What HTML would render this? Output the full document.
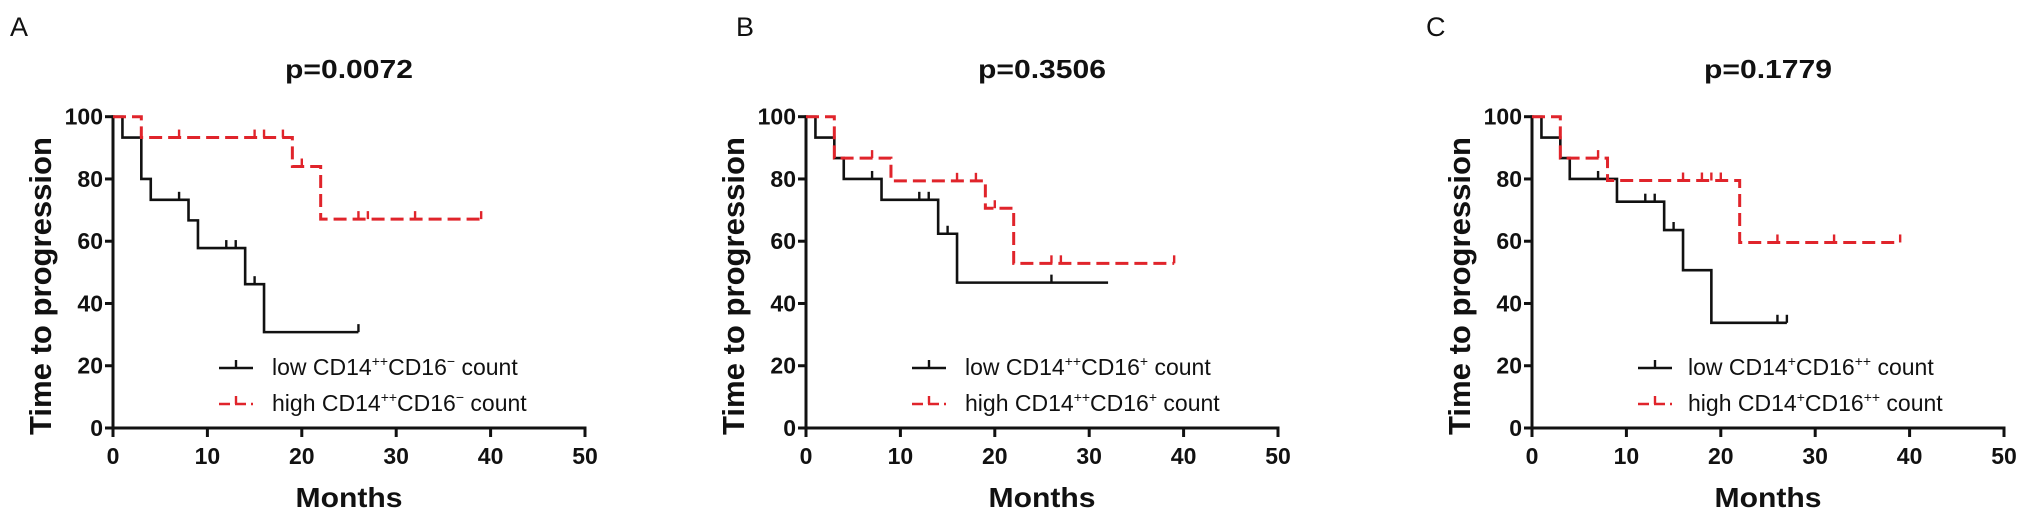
<!DOCTYPE html>
<html><head><meta charset="utf-8">
<style>
html,body{margin:0;padding:0;background:#fff;}
body{width:2031px;height:521px;position:relative;overflow:hidden;font-family:"Liberation Sans",Arial,sans-serif;}
svg{position:absolute;left:0;top:0;}
.leg{position:absolute;font-size:23px;color:#111;white-space:nowrap;line-height:1;}
.leg sup{font-size:14px;vertical-align:9px;line-height:0;}
.plabel{position:absolute;font-size:27px;color:#111;top:12px;}
</style></head>
<body>
<svg id="chart" width="2031" height="521"></svg>
<div class="plabel" style="left:10px">A</div>
<div class="plabel" style="left:736px">B</div>
<div class="plabel" style="left:1426px">C</div>
<div class="leg" style="left:272px;top:356px">low CD14<sup>++</sup>CD16<sup>−</sup> count</div>
<div class="leg" style="left:272px;top:392px">high CD14<sup>++</sup>CD16<sup>−</sup> count</div>
<div class="leg" style="left:965px;top:356px">low CD14<sup>++</sup>CD16<sup>+</sup> count</div>
<div class="leg" style="left:965px;top:392px">high CD14<sup>++</sup>CD16<sup>+</sup> count</div>
<div class="leg" style="left:1688px;top:356px">low CD14<sup>+</sup>CD16<sup>++</sup> count</div>
<div class="leg" style="left:1688px;top:392px">high CD14<sup>+</sup>CD16<sup>++</sup> count</div>
<script>
// Panel A
const aTitle = "p=0.0072";
const aLowTimes = [0,1,3,4,8,9,14,16];
const aLowSurv = [100,93.3,80,73.3,66.7,57.8,46.2,30.8];
const aLowEnd = 26;
const aLowCens = [7,12,13,15,26];
const aHighTimes = [0,3,19,22];
const aHighSurv = [100,93.3,84,67.1];
const aHighEnd = 39;
const aHighCens = [7,15,16,18,20,26,27,32,39];
// Panel B
const bTitle = "p=0.3506";
const bLowTimes = [0,1,3,4,8,14,16];
const bLowSurv = [100,93.3,86.7,80,73.3,62.4,46.7];
const bLowEnd = 32;
const bLowCens = [7,12,13,15,26];
const bHighTimes = [0,3,9,19,22];
const bHighSurv = [100,86.7,79.4,70.6,52.9];
const bHighEnd = 39;
const bHighCens = [7,16,18,20,26,27,39];
// Panel C
const cTitle = "p=0.1779";
const cLowTimes = [0,1,3,4,9,14,16,19];
const cLowSurv = [100,93.3,86.7,80,72.7,63.6,50.7,33.8];
const cLowEnd = 27;
const cLowCens = [7,12,13,15,26,27];
const cHighTimes = [0,3,8,22];
const cHighSurv = [100,86.7,79.5,59.6];
const cHighEnd = 39;
const cHighCens = [7,16,18,19,20,26,32,39];
// Axes
const xTicks = [0,10,20,30,40,50];
const yTicks = [0,20,40,60,80,100];

const NS = "http://www.w3.org/2000/svg";
const svg = document.getElementById('chart');
function mk(tag, attrs, parent){
  const e = document.createElementNS(NS, tag);
  for (const k in attrs) e.setAttribute(k, attrs[k]);
  (parent||svg).appendChild(e);
  return e;
}
const Y0 = 428, YH = 311.3, XW = 472;
function panel(key, ox, title, series){
  const g = mk('g', {});
  
  
  const sx = v => ox + v / 50 * XW;
  const sy = v => Y0 - v / 100 * YH;
  const t = mk('text', {x: ox + XW/2, y: 78, 'text-anchor':'middle', 'font-size':26, 'font-weight':'bold', fill:'#111', textLength:128, lengthAdjust:'spacingAndGlyphs'}, g);
  t.textContent = title;
  
  
  const yt = mk('text', {x: 0, y: 0, transform:`translate(${ox-62},286) rotate(-90)`, 'text-anchor':'middle', 'font-size':31, 'font-weight':'bold', fill:'#111', textLength:298, lengthAdjust:'spacingAndGlyphs'}, g);
  yt.textContent = 'Time to progression';
  
  
  const xt = mk('text', {x: ox + XW/2, y: 507, 'text-anchor':'middle', 'font-size':28, 'font-weight':'bold', fill:'#111', textLength:107, lengthAdjust:'spacingAndGlyphs'}, g);
  xt.textContent = 'Months';
  
  
  const ax = mk('path', {d:`M${sx(0)},${sy(100)-1.5} V${Y0} H${sx(50)+1.5}`, stroke:'#111', 'stroke-width':3, fill:'none'}, g);
  
  
  yTicks.forEach(v => {
    const tk = mk('line', {x1:sx(0)-8, x2:sx(0), y1:sy(v), y2:sy(v), stroke:'#111','stroke-width':3}, g);
    
    
    const l = mk('text', {x:sx(0)-10, y:sy(v)+8, 'text-anchor':'end','font-size':23,'font-weight':'bold',fill:'#111'}, g);
    l.textContent = v;
    
    
  });
  xTicks.forEach(v => {
    const tk = mk('line', {x1:sx(v), x2:sx(v), y1:Y0, y2:Y0+9, stroke:'#111','stroke-width':3}, g);
    
    
    const l = mk('text', {x:sx(v), y:464, 'text-anchor':'middle','font-size':23,'font-weight':'bold',fill:'#111'}, g);
    l.textContent = v;
    
    
  });
  series.forEach((s, i) => {
    const {times, surv, end, cens, color, dash, name} = s;
    let d = `M${sx(times[0])},${sy(surv[0])}`;
    for (let k = 1; k < times.length; k++) d += ` H${sx(times[k])} V${sy(surv[k])}`;
    d += ` H${sx(end)}`;
    const p = mk('path', {d, stroke:color, 'stroke-width': dash ? 3 : 2.6, fill:'none', 'stroke-dasharray': dash ? '13 6' : 'none'}, g);
    
    
    const survAt = tm => { let v = surv[0]; for (let k=0;k<times.length;k++) if (times[k] <= tm) v = surv[k]; return v; };
    cens.forEach(c => {
      const cy = sy(survAt(c));
      const m = mk('line', {x1:sx(c), x2:sx(c), y1:cy, y2:cy-8, stroke:color, 'stroke-width':2.4}, g);
      
      
    });
    const ly = i === 0 ? 368 : 404;
    const lx = ox + 106;
    const ls = mk('line', {x1:lx, x2:lx+34, y1:ly, y2:ly, stroke:color, 'stroke-width':2.6, 'stroke-dasharray': dash ? '11 5' : 'none'}, g);
    
    
    const lt = mk('line', {x1:lx+17, x2:lx+17, y1:ly, y2:ly-8, stroke:color, 'stroke-width':2.4}, g);
    
    
  });
}
panel('a', 113, aTitle, [
  {times:aLowTimes, surv:aLowSurv, end:aLowEnd, cens:aLowCens, color:'#111', dash:false, name:'low'},
  {times:aHighTimes, surv:aHighSurv, end:aHighEnd, cens:aHighCens, color:'#e0242b', dash:true, name:'high'}]);
panel('b', 806, bTitle, [
  {times:bLowTimes, surv:bLowSurv, end:bLowEnd, cens:bLowCens, color:'#111', dash:false, name:'low'},
  {times:bHighTimes, surv:bHighSurv, end:bHighEnd, cens:bHighCens, color:'#e0242b', dash:true, name:'high'}]);
panel('c', 1532, cTitle, [
  {times:cLowTimes, surv:cLowSurv, end:cLowEnd, cens:cLowCens, color:'#111', dash:false, name:'low'},
  {times:cHighTimes, surv:cHighSurv, end:cHighEnd, cens:cHighCens, color:'#e0242b', dash:true, name:'high'}]);
</script>
</body></html>
